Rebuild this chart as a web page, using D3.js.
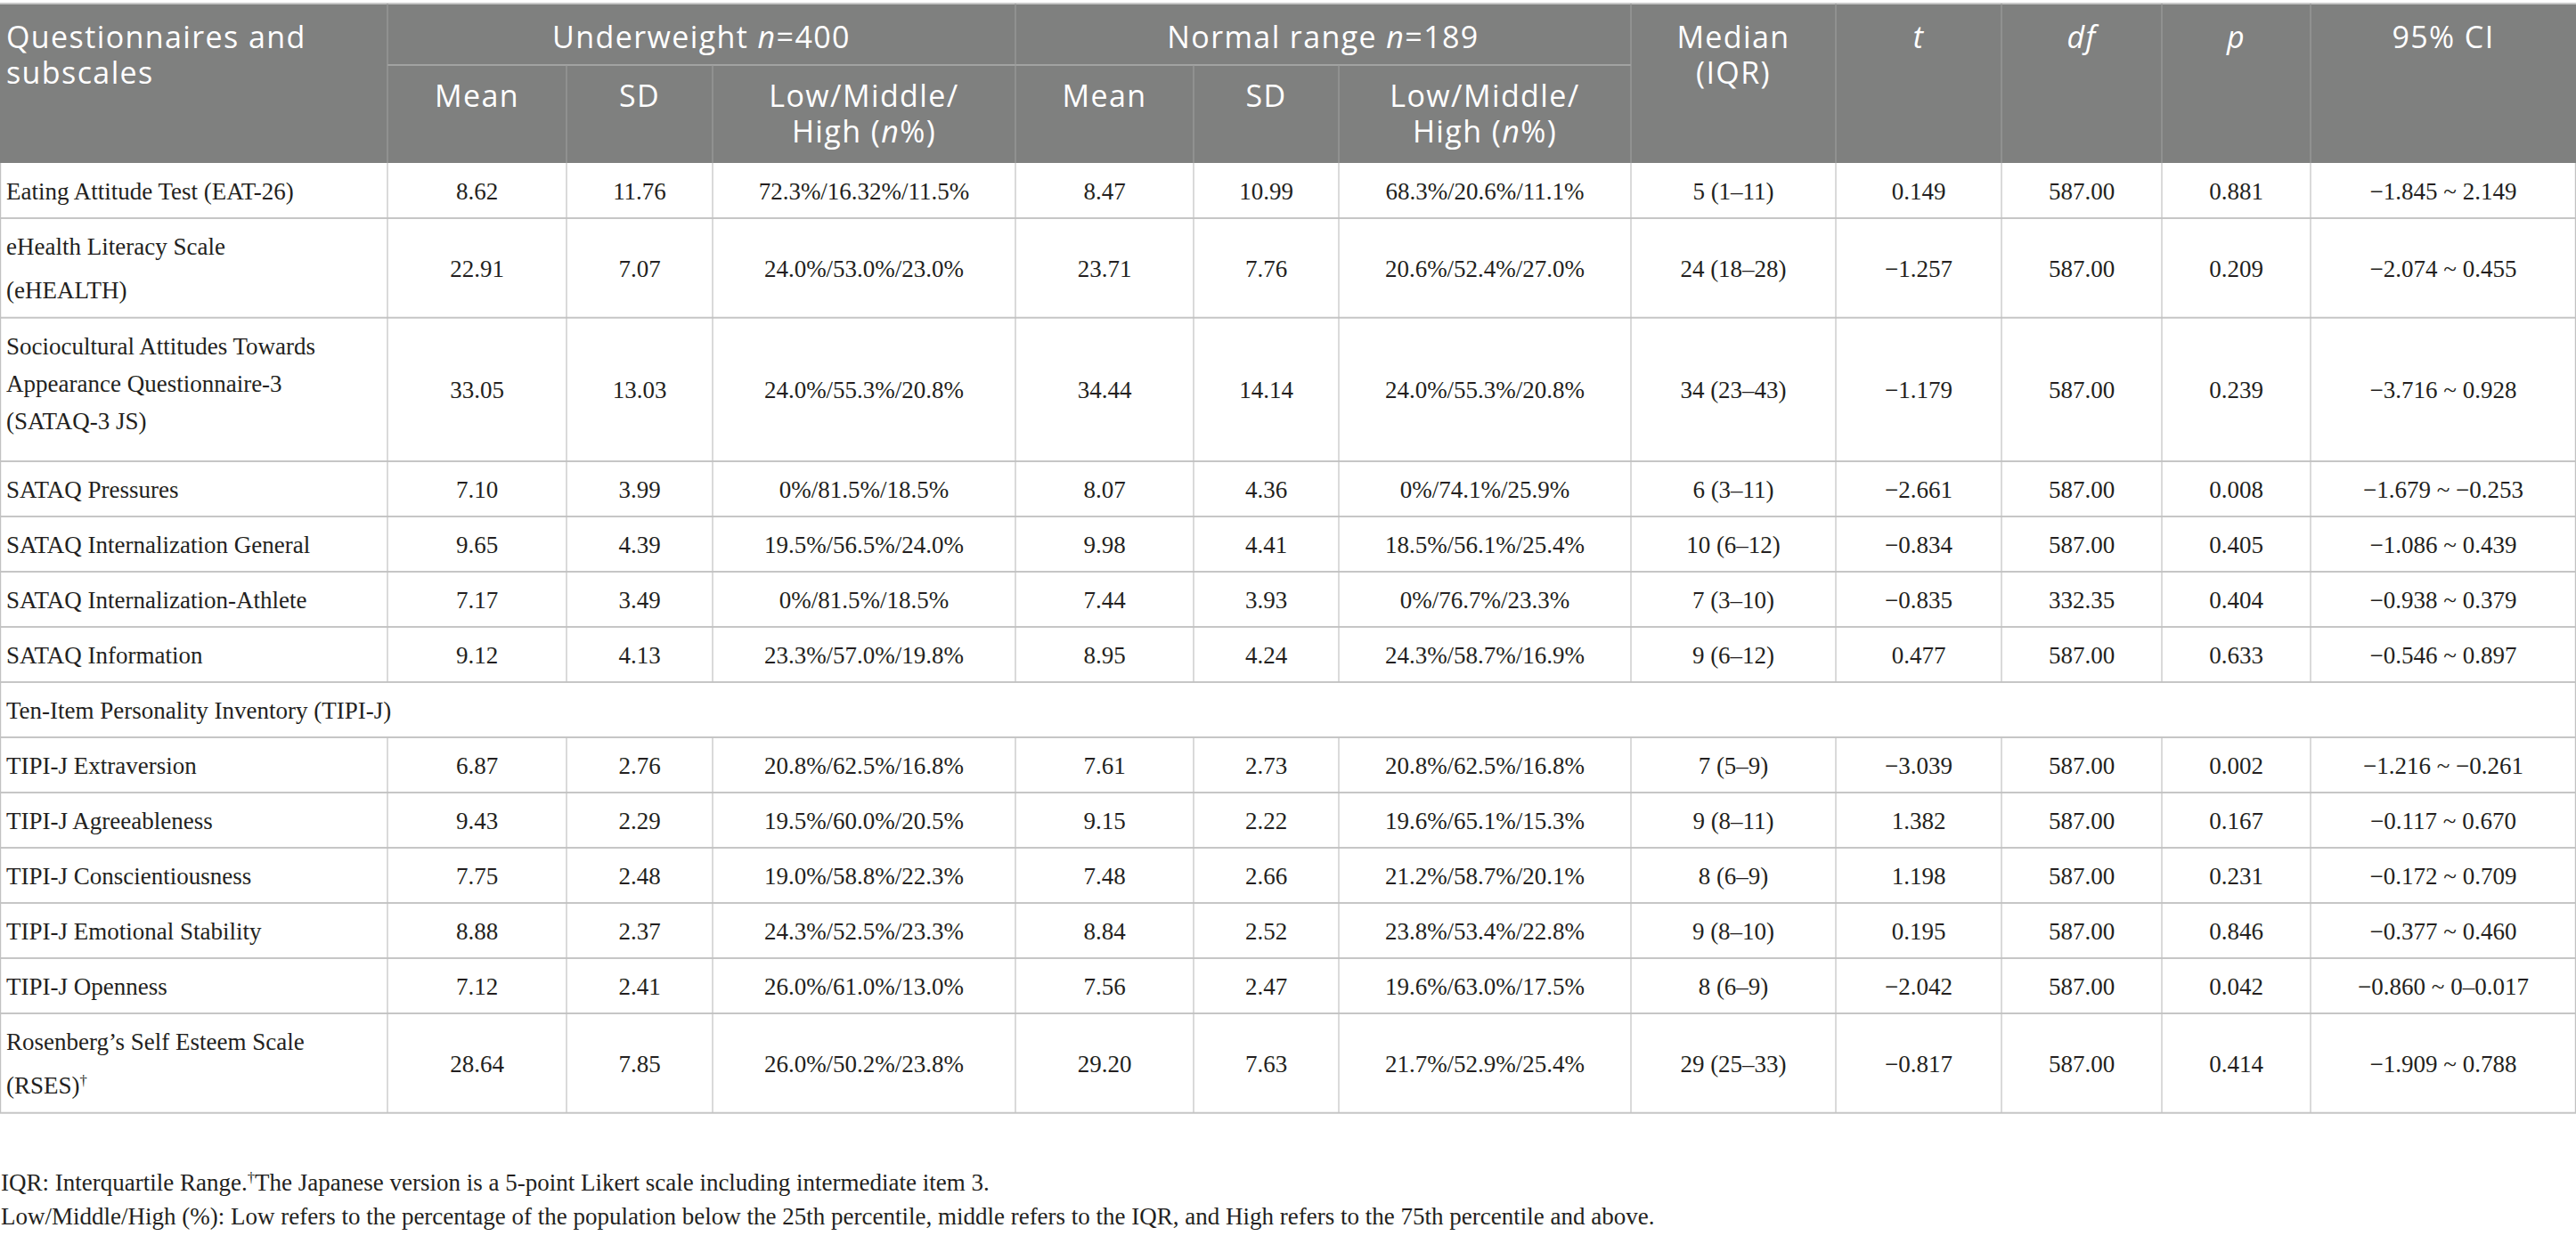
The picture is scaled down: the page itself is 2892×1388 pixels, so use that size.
<!DOCTYPE html>
<html lang="en">
<head>
    <meta charset="UTF-8">
    <title>Questionnaire scores by weight group</title>
    <style>
        body { margin: 0; background: #fff; }
        svg { display: block; }
    </style>
</head>
<body>
<svg id="chart"></svg>
<script src="https://d3js.org/d3.v7.min.js"></script>
<script>
    // ---- data ----
    var rowLabels = [
        "Eating Attitude Test (EAT-26)",
        "eHealth Literacy Scale\n(eHEALTH)",
        "Sociocultural Attitudes Towards\nAppearance Questionnaire-3\n(SATAQ-3 JS)",
        "SATAQ Pressures",
        "SATAQ Internalization General",
        "SATAQ Internalization-Athlete",
        "SATAQ Information",
        "Ten-Item Personality Inventory (TIPI-J)",
        "TIPI-J Extraversion",
        "TIPI-J Agreeableness",
        "TIPI-J Conscientiousness",
        "TIPI-J Emotional Stability",
        "TIPI-J Openness",
        "Rosenberg\u2019s Self Esteem Scale\n(RSES)\u2020"
    ];
    var groupRows = ["Ten-Item Personality Inventory (TIPI-J)"];

    var uwMean = [8.62, 22.91, 33.05, 7.10, 9.65, 7.17, 9.12, null, 6.87, 9.43, 7.75, 8.88, 7.12, 28.64];
    var uwSD = [11.76, 7.07, 13.03, 3.99, 4.39, 3.49, 4.13, null, 2.76, 2.29, 2.48, 2.37, 2.41, 7.85];
    var uwLMH = ["72.3%/16.32%/11.5%", "24.0%/53.0%/23.0%", "24.0%/55.3%/20.8%", "0%/81.5%/18.5%",
        "19.5%/56.5%/24.0%", "0%/81.5%/18.5%", "23.3%/57.0%/19.8%", null, "20.8%/62.5%/16.8%",
        "19.5%/60.0%/20.5%", "19.0%/58.8%/22.3%", "24.3%/52.5%/23.3%", "26.0%/61.0%/13.0%", "26.0%/50.2%/23.8%"];
    var nrMean = [8.47, 23.71, 34.44, 8.07, 9.98, 7.44, 8.95, null, 7.61, 9.15, 7.48, 8.84, 7.56, 29.20];
    var nrSD = [10.99, 7.76, 14.14, 4.36, 4.41, 3.93, 4.24, null, 2.73, 2.22, 2.66, 2.52, 2.47, 7.63];
    var nrLMH = ["68.3%/20.6%/11.1%", "20.6%/52.4%/27.0%", "24.0%/55.3%/20.8%", "0%/74.1%/25.9%",
        "18.5%/56.1%/25.4%", "0%/76.7%/23.3%", "24.3%/58.7%/16.9%", null, "20.8%/62.5%/16.8%",
        "19.6%/65.1%/15.3%", "21.2%/58.7%/20.1%", "23.8%/53.4%/22.8%", "19.6%/63.0%/17.5%", "21.7%/52.9%/25.4%"];
    var medianIQR = ["5 (1\u201311)", "24 (18\u201328)", "34 (23\u201343)", "6 (3\u201311)", "10 (6\u201312)",
        "7 (3\u201310)", "9 (6\u201312)", null, "7 (5\u20139)", "9 (8\u201311)", "8 (6\u20139)", "9 (8\u201310)",
        "8 (6\u20139)", "29 (25\u201333)"];
    var tVals = [0.149, -1.257, -1.179, -2.661, -0.834, -0.835, 0.477, null, -3.039, 1.382, 1.198, 0.195, -2.042, -0.817];
    var dfVals = [587, 587, 587, 587, 587, 332.35, 587, null, 587, 587, 587, 587, 587, 587];
    var pVals = [0.881, 0.209, 0.239, 0.008, 0.405, 0.404, 0.633, null, 0.002, 0.167, 0.231, 0.846, 0.042, 0.414];
    var ci95 = ["\u22121.845 ~ 2.149", "\u22122.074 ~ 0.455", "\u22123.716 ~ 0.928", "\u22121.679 ~ \u22120.253",
        "\u22121.086 ~ 0.439", "\u22120.938 ~ 0.379", "\u22120.546 ~ 0.897", null, "\u22121.216 ~ \u22120.261",
        "\u22120.117 ~ 0.670", "\u22120.172 ~ 0.709", "\u22120.377 ~ 0.460", "\u22120.860 ~ 0\u20130.017",
        "\u22121.909 ~ 0.788"];

    // header labels, {x} = italic
    var headTop = ["Questionnaires and\nsubscales", "Underweight {n}=400", "Normal range {n}=189",
        "Median\n(IQR)", "{t}", "{df}", "{p}", "95% CI"];
    var headSub = ["Mean", "SD", "Low/Middle/\nHigh ({n}%)"];

    var footnotes = [
        "IQR: Interquartile Range.^\u2020^The Japanese version is a 5-point Likert scale including intermediate item 3.",
        "Low/Middle/High (%): Low refers to the percentage of the population below the 25th percentile, middle refers to the IQR, and High refers to the 75th percentile and above."
    ];

    // ---- layout ----
    var width = 2892, height = 1388;
    var colEdges = [0, 435, 636, 800, 1140, 1340, 1503, 1831, 2061, 2247, 2427, 2594, 2892];
    var headTopY = 4, headMidY = 73, headBottom = 183;
    var headFill = "#7f807f", gridColor = "#c6c6c6", textColor = "#231f20";
    var serif = "'Liberation Serif', 'Times New Roman', serif";
    var sans = "'Open Sans', 'Noto Sans', sans-serif";

    var fmt2 = d3.format(".2f"), fmt3 = d3.format(".3f");
    var columns = [
        {vals: uwMean, f: fmt2}, {vals: uwSD, f: fmt2}, {vals: uwLMH, f: String},
        {vals: nrMean, f: fmt2}, {vals: nrSD, f: fmt2}, {vals: nrLMH, f: String},
        {vals: medianIQR, f: String}, {vals: tVals, f: fmt3}, {vals: dfVals, f: fmt2},
        {vals: pVals, f: fmt3}, {vals: ci95, f: String}
    ];

    var colIdx = d3.range(colEdges.length - 1);
    var xLeft = d3.scaleOrdinal().domain(colIdx).range(colEdges.slice(0, -1));
    var xRight = d3.scaleOrdinal().domain(colIdx).range(colEdges.slice(1));
    function xMid(i) { return (xLeft(i) + xRight(i)) / 2; }

    // row heights from line count
    var rows = rowLabels.map(function (label, i) {
        var lines = label.split("\n");
        return {label: label, lines: lines, i: i, group: groupRows.indexOf(label) >= 0,
            h: 12.3 + 49.7 * lines.length};
    });
    var yEdges = [headBottom];
    rows.forEach(function (r) { yEdges.push(yEdges[yEdges.length - 1] + r.h); });
    var yTop = d3.scaleOrdinal().domain(d3.range(rows.length)).range(yEdges.slice(0, -1));

    var svg = d3.select("#chart")
        .attr("width", width)
        .attr("height", height)
        .attr("viewBox", "0 0 " + width + " " + height);

    // rich text helper: {x} italic, ^x^ superscript
    function addRich(sel, str) {
        str.split(/(\{[^}]*\}|\^[^^]*\^)/).forEach(function (part) {
            if (!part) return;
            var ts = sel.append("tspan");
            if (part[0] === "{") {
                ts.style("font-style", "italic").text(part.slice(1, -1));
            } else if (part[0] === "^") {
                ts.attr("baseline-shift", "super").style("font-size", "62%").text(part.slice(1, -1));
            } else {
                ts.text(part);
            }
        });
    }
    // one text element per cell, one tspan per line
    function multiLine(g, str, x, y0, gap, anchor, font) {
        var t = g.append("text")
            .attr("x", x)
            .attr("y", y0)
            .attr("text-anchor", anchor)
            .style("font-family", font.family)
            .style("font-size", font.size + "px")
            .style("letter-spacing", font.ls || 0)
            .style("fill", font.fill);
        str.split("\n").forEach(function (line, k) {
            var ln = t.append("tspan").attr("x", x).attr("y", y0 + k * gap);
            addRich(ln, line.replace("\u2020", "^\u2020^"));
        });
    }

    // ---- header ----
    var head = svg.append("g");
    head.append("rect")
        .attr("x", 0).attr("y", headTopY)
        .attr("width", width).attr("height", headBottom - headTopY)
        .attr("fill", headFill);
    head.append("line")
        .attr("x1", 0).attr("x2", width).attr("y1", headTopY).attr("y2", headTopY)
        .attr("stroke", "#c8c8c8").attr("stroke-width", 2);
    head.append("line")
        .attr("x1", colEdges[1]).attr("x2", colEdges[7]).attr("y1", headMidY).attr("y2", headMidY)
        .attr("stroke", "#a2a3a2").attr("stroke-width", 2);
    // header verticals
    var headV = [1, 4, 7, 8, 9, 10, 11].map(function (c) { return {x: colEdges[c], y1: headTopY}; })
        .concat([2, 3, 5, 6].map(function (c) { return {x: colEdges[c], y1: headMidY}; }));
    head.selectAll("line.hv").data(headV).enter().append("line")
        .attr("class", "hv")
        .attr("x1", function (d) { return d.x; }).attr("x2", function (d) { return d.x; })
        .attr("y1", function (d) { return d.y1; }).attr("y2", headBottom)
        .attr("stroke", "#9c9d9c").attr("stroke-width", 1.2);

    var hFont = {family: sans, size: 34, ls: "1.4px", fill: "#ffffff"};
    // spans of the top header cells: [firstCol, lastColExclusive]
    var topSpans = [[0, 1], [1, 4], [4, 7], [7, 8], [8, 9], [9, 10], [10, 11], [11, 12]];
    headTop.forEach(function (lab, k) {
        var s = topSpans[k];
        var left = k === 0;
        var x = left ? 7 : (colEdges[s[0]] + colEdges[s[1]]) / 2;
        multiLine(head, lab, x, headTopY + 50, 40, left ? "start" : "middle", hFont);
    });
    [1, 4].forEach(function (c0) {
        headSub.forEach(function (lab, k) {
            multiLine(head, lab, xMid(c0 + k), headMidY + 47, 40, "middle", hFont);
        });
    });

    // ---- body ----
    var body = svg.append("g");
    var bFont = {family: serif, size: 27, fill: textColor};

    // horizontal rules
    body.selectAll("line.hr").data(yEdges.slice(1)).enter().append("line")
        .attr("class", "hr")
        .attr("x1", 0).attr("x2", width)
        .attr("y1", function (d) { return d; }).attr("y2", function (d) { return d; })
        .attr("stroke", gridColor).attr("stroke-width", 2);

    // vertical rules per row (none inside group rows)
    var vSegs = [];
    rows.forEach(function (r) {
        var edges = r.group ? [0, colEdges.length - 1] : colEdges.map(function (d, c) { return c; });
        edges.forEach(function (c) {
            vSegs.push({x: Math.min(Math.max(colEdges[c], 0.6), width - 0.6), y1: yTop(r.i), y2: yTop(r.i) + r.h});
        });
    });
    body.selectAll("line.vr").data(vSegs).enter().append("line")
        .attr("class", "vr")
        .attr("x1", function (d) { return d.x; }).attr("x2", function (d) { return d.x; })
        .attr("y1", function (d) { return d.y1; }).attr("y2", function (d) { return d.y2; })
        .attr("stroke", "#c2c2c2").attr("stroke-width", 1.2);

    rows.forEach(function (r) {
        var cy = yTop(r.i) + r.h / 2;
        var n = r.lines.length;
        var gap = n > 2 ? 42 : 49;
        var y0 = cy + 10 - (n - 1) * gap / 2 - (n > 2 ? 7 : 0);
        multiLine(body, r.label, 7, y0, gap, "start", bFont);
        if (r.group) return;
        columns.forEach(function (col, k) {
            var v = col.vals[r.i];
            if (v === null) return;
            body.append("text")
                .attr("x", xMid(k + 1))
                .attr("y", cy + 10)
                .attr("text-anchor", "middle")
                .style("font-family", serif)
                .style("font-size", "27px")
                .style("fill", textColor)
                .text(col.f(v));
        });
    });

    // ---- footnotes ----
    var notes = svg.append("g");
    footnotes.forEach(function (line, k) {
        var t = notes.append("text")
            .attr("x", 1)
            .attr("y", 1337 + k * 38)
            .style("font-family", serif)
            .style("font-size", "27px")
            .style("fill", textColor);
        addRich(t, line);
    });
</script>
</body>
</html>
